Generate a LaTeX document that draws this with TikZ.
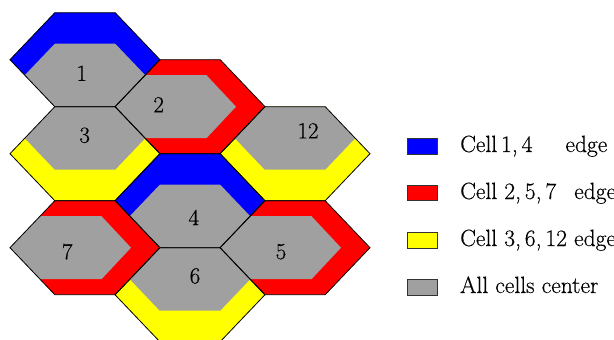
\documentclass[tikz,border=0pt]{standalone}
\usepackage{fontspec}
\newfontfamily\heavylm{Latin Modern Roman}[FakeBold=0.4]
\definecolor{cellblue}{RGB}{0,0,255}
\definecolor{cellred}{RGB}{255,0,0}
\definecolor{cellyellow}{RGB}{255,255,0}
\definecolor{cellgray}{RGB}{160,160,160}
\newcommand\hexcell[4]{%
  \begin{scope}[shift={(#1,#2)}]
    \fill[#3] (-75,0) -- (-30.2,-47) -- (30.2,-47) -- (75,0) -- (30.2,47) -- (-30.2,47) -- cycle;
    \begin{scope}
      \clip (-75,0) -- (-30.2,-47) -- (30.2,-47) -- (75,0) -- (30.2,47) -- (-30.2,47) -- cycle;
      \fill[cellgray] #4;
    \end{scope}
  \end{scope}}
\newcommand\hexblue[2]{\hexcell{#1}{#2}{cellblue}{(-75,31) -- (-30.2,-16) -- (30.2,-16) -- (75,31) -- (30.2,78) -- (-30.2,78) -- cycle}}
\newcommand\hexyellow[2]{\hexcell{#1}{#2}{cellyellow}{(-75,-31) -- (-30.2,-78) -- (30.2,-78) -- (75,-31) -- (30.2,16) -- (-30.2,16) -- cycle}}
\newcommand\hexred[2]{\hexcell{#1}{#2}{cellred}{(-120,-31.5) -- (16.5,-31.5) -- (46,0) -- (16.5,31.5) -- (-120,31.5) -- cycle}}
\newcommand\hexoutline[2]{\draw[hexline,shift={(#1,#2)}] (-75,0) -- (-30.2,-47) -- (30.2,-47) -- (75,0) -- (30.2,47) -- (-30.2,47) -- cycle;}
\tikzset{
  hexline/.style={draw=black,line width=0.8pt,line join=miter},
  celllabel/.style={inner sep=0pt,font=\heavylm\fontsize{23}{27}\selectfont},
  swatch/.style={draw=black!80,line width=0.6pt,minimum width=30pt,minimum height=15.5pt,inner sep=0pt},
  legtext/.style={anchor=base west,inner sep=0pt,font=\heavylm\fontsize{23.5}{27}\selectfont}
}
\begin{document}
\begin{tikzpicture}[x=1pt,y=-1pt]
\useasboundingbox (0,0) rectangle (614,340);
% cells
\hexblue{85}{59.7}
\hexred{190}{106.7}
\hexyellow{85}{153.7}
\hexyellow{295}{153.7}
\hexblue{190}{200.7}
\hexred{85}{247.7}
\hexred{295}{247.7}
\hexyellow{190}{294.7}
% outlines
\hexoutline{85}{59.7}
\hexoutline{190}{106.7}
\hexoutline{85}{153.7}
\hexoutline{295}{153.7}
\hexoutline{190}{200.7}
\hexoutline{85}{247.7}
\hexoutline{295}{247.7}
\hexoutline{190}{294.7}
% labels
\node[celllabel] (l1) at (81.7,73.3) {1};
\node[celllabel] (l2) at (158.7,104.7) {2};
\node[celllabel] (l3) at (84.7,135.3) {3};
\node[celllabel] (l12) at (308,130.8) {12};
\node[celllabel] (l4) at (193.8,217.5) {4};
\node[celllabel] (l7) at (67.2,251.7) {7};
\node[celllabel] (l5) at (281,251.7) {5};
\node[celllabel] (l6) at (195,276) {6};
% legend
\node[swatch,fill=cellblue] (s1) at (422.3,146.2) {};
\node[swatch,fill=cellred] (s2) at (422.3,193) {};
\node[swatch,fill=cellyellow] (s3) at (422.3,240.2) {};
\node[swatch,fill=cellgray] (s4) at (422.3,287.2) {};
\node[legtext] (t1) at (460,152) {Cell\,1,\,4\hspace{33pt}edge};
\node[legtext] (t2) at (460,199) {Cell 2,\,5,\,7\hspace{18pt}edge};
\node[legtext] (t3) at (460,246) {Cell 3,\,6,\,12 edge};
\node[legtext] (t4) at (460,293) {All cells center};
\end{tikzpicture}
\end{document}
